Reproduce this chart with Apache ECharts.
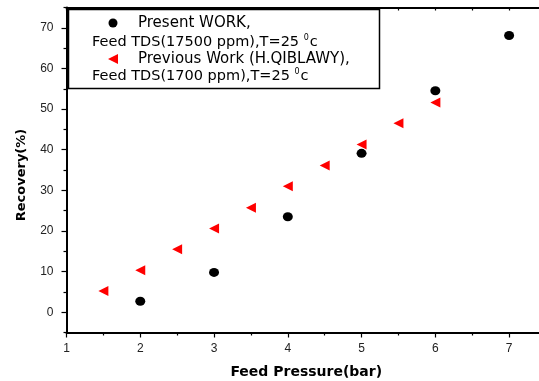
<!DOCTYPE html>
<html>
<head>
<meta charset="utf-8">
<script src="https://cdn.jsdelivr.net/npm/echarts@6/dist/echarts.min.js"></script>
<style>html,body{margin:0;padding:0;background:#fff}#c{width:539px;height:381px}</style>
</head>
<body>
<div id="c"></div>
<script>
// ---- data ----
var presentX = [2, 3, 4, 5, 6, 7];
var presentY = [2.7, 9.8, 23.5, 39.1, 54.5, 68.1];
var previousX = [1.5, 2, 2.5, 3, 3.5, 4, 4.5, 5, 5.5, 6];
var previousY = [5.2, 10.3, 15.5, 20.6, 25.7, 31.0, 36.1, 41.3, 46.5, 51.6];
var yTickLabels = [0, 10, 20, 30, 40, 50, 60, 70];
var yMinorTicks = [-5, 5, 15, 25, 35, 45, 55, 65, 75];
var xTickLabels = [1, 2, 3, 4, 5, 6, 7];
var xTitle = 'Feed Pressure(bar)';
var yTitle = 'Recovery(%)';
var legendLine1 = 'Present WORK,';
var legendLine2 = 'Feed TDS(17500 ppm),T=25 ';
var legendLine3 = 'Previous Work (H.QIBLAWY),';
var legendLine4 = 'Feed TDS(1700 ppm),T=25 ';

function zip(xs, ys) { return xs.map(function (x, i) { return [x, ys[i]]; }); }

var chart = echarts.init(document.getElementById('c'));
var axisCol = '#000';
var LF = '"Liberation Sans", Arial, sans-serif';
var TF = '"DejaVu Sans", sans-serif';
var legendFont = '14.5px ' + TF;
var legendFontWide = '15px ' + TF;

var option = {
  backgroundColor: '#fff',
  animation: false,
  grid: { left: 66.5, top: 7.5, right: -7, bottom: 48.5, containLabel: false, outerBoundsMode: 'none' },
  xAxis: [{
    type: 'value', min: 1, max: 7.5, interval: 1, position: 'bottom',
    name: xTitle, nameLocation: 'middle', nameGap: 33,
    nameTextStyle: { fontFamily: TF, fontWeight: 'bold', fontSize: 14, color: '#000', verticalAlign: 'top' },
    axisLine: { show: true, onZero: false, lineStyle: { color: axisCol, width: 2 } },
    axisTick: { show: true, length: 5, lineStyle: { color: axisCol, width: 1.2 } },
    minorTick: { show: true, splitNumber: 2, length: 3, lineStyle: { color: axisCol, width: 1.2 } },
    axisLabel: { show: true, margin: 10, fontFamily: LF, fontSize: 12, color: '#222', customValues: xTickLabels },
    splitLine: { show: false }
  }, {
    type: 'value', min: 1, max: 7.5, interval: 0.5, position: 'top',
    axisLine: { show: true, onZero: false, lineStyle: { color: axisCol, width: 2 } },
    axisTick: { show: true, inside: true, length: 3, lineStyle: { color: axisCol, width: 1.2 } },
    axisLabel: { show: false },
    splitLine: { show: false }
  }],
  yAxis: [{
    type: 'value', min: -5, max: 75, position: 'left',
    axisLine: { show: true, onZero: false, lineStyle: { color: axisCol, width: 2 } },
    axisTick: { show: true, length: 5, customValues: yTickLabels, lineStyle: { color: axisCol, width: 1.2 } },
    axisLabel: { show: true, margin: 13, fontFamily: LF, fontSize: 12, color: '#222', customValues: yTickLabels },
    splitLine: { show: false }
  }, {
    type: 'value', min: -5, max: 75, position: 'left',
    axisLine: { show: false },
    axisTick: { show: true, length: 3, customValues: yMinorTicks, lineStyle: { color: axisCol, width: 1.2 } },
    axisLabel: { show: false },
    splitLine: { show: false }
  }],
  series: [{
    name: 'Present WORK',
    type: 'scatter', xAxisIndex: 0, yAxisIndex: 0,
    symbol: 'circle', symbolSize: [10, 9],
    itemStyle: { color: '#000', opacity: 1 },
    data: zip(presentX, presentY)
  }, {
    name: 'Previous Work',
    type: 'scatter', xAxisIndex: 0, yAxisIndex: 0,
    symbol: 'triangle', symbolSize: [10, 10], symbolRotate: 90,
    itemStyle: { color: '#ff0000', opacity: 1 },
    data: zip(previousX, previousY)
  }],
  graphic: [
    { type: 'text', z: 11, rotation: Math.PI / 2, x: 22, y: 175,
      style: { x: 0, y: 0, text: yTitle, font: 'bold 13px ' + TF, fill: '#000', align: 'center', verticalAlign: 'middle' } },
    { type: 'rect', z: 10, shape: { x: 68.5, y: 9.5, width: 311, height: 79 },
      style: { fill: '#fff', stroke: '#000', lineWidth: 1.5 } },
    { type: 'circle', z: 11, shape: { cx: 113, cy: 23, r: 4.5 }, style: { fill: '#000' } },
    { type: 'polygon', z: 11, shape: { points: [[108, 59], [118, 54], [118, 64]] }, style: { fill: '#ff0000' } },
    { type: 'text', z: 11, style: { x: 138, y: 23, text: legendLine1, font: legendFontWide, fill: '#000', verticalAlign: 'middle' } },
    { type: 'text', z: 11, style: { x: 92, y: 42, text: legendLine2 + '{s|0}c', font: legendFont, fill: '#000', verticalAlign: 'middle',
        rich: { s: { fontSize: 8, fontFamily: TF, verticalAlign: 'top', padding: [0, 1, 8, 0] } } } },
    { type: 'text', z: 11, style: { x: 138, y: 59, text: legendLine3, font: legendFontWide, fill: '#000', verticalAlign: 'middle' } },
    { type: 'text', z: 11, style: { x: 92, y: 76, text: legendLine4 + '{s|0}c', font: legendFont, fill: '#000', verticalAlign: 'middle',
        rich: { s: { fontSize: 8, fontFamily: TF, verticalAlign: 'top', padding: [0, 1, 8, 0] } } } }
  ]
};
chart.setOption(option);
</script>
</body>
</html>
